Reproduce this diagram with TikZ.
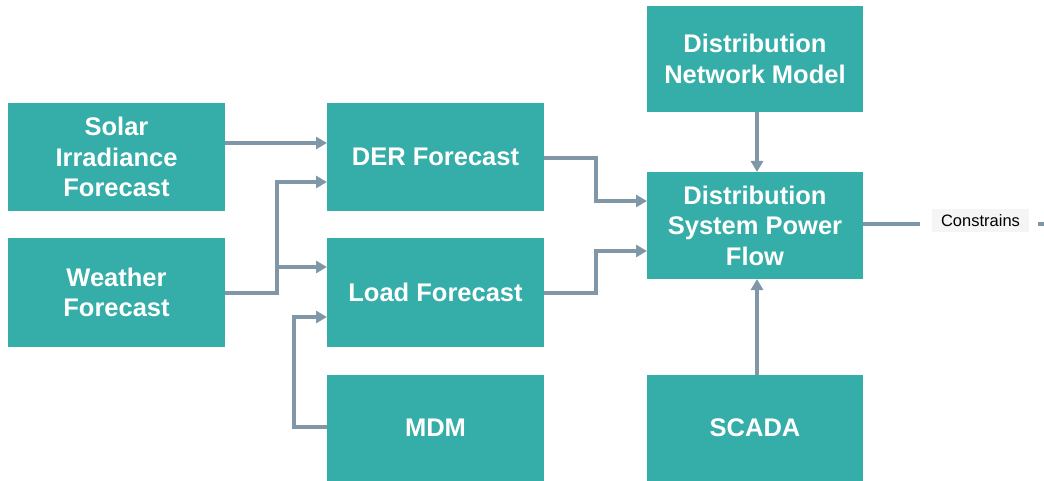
\documentclass[tikz,border=0pt]{standalone}
\usepackage{fontspec}
\setmainfont{Liberation Sans}
\usetikzlibrary{arrows.meta}
\definecolor{boxteal}{HTML}{35ADA8}
\definecolor{linkgray}{HTML}{7F97A6}
\definecolor{tagbg}{HTML}{F5F5F5}
\begin{document}
\begin{tikzpicture}[x=1pt,y=-1pt,
  block/.style={fill=boxteal,draw=none,text=white,font=\fontsize{25.5}{30.5}\selectfont\bfseries,
    align=center,inner sep=0pt},
  link/.style={draw=linkgray,line width=3.2pt,-{Triangle[length=11pt,width=12pt]}},
  plainlink/.style={draw=linkgray,line width=3.2pt}]
\useasboundingbox (0,0) rectangle (1044,481);
% block outlines from their corners
\newcommand{\blockat}[6]{%
  \path[fill=boxteal] (#1,#2) rectangle (#3,#4);
  \node[block] (#5) at ({(#1+#3)/2},{(#2+#4)/2}) {#6};}
\blockat{8}{103}{225}{211}{solar}{Solar\\Irradiance\\Forecast}
\blockat{8}{238}{225}{347}{weather}{Weather\\Forecast}
\blockat{327}{103}{544}{211}{der}{DER Forecast}
\blockat{327}{238}{544}{347}{load}{Load Forecast}
\blockat{327}{375}{544}{481}{mdm}{MDM}
\blockat{647}{6}{863}{112}{dnm}{Distribution\\Network Model}
\blockat{647}{172}{863}{279}{dspf}{Distribution\\System Power\\Flow}
\blockat{647}{375}{863}{481}{scada}{SCADA}
% anchor points on block edges
\coordinate (solarE) at (225,143);
\coordinate (derWa) at (327,143);
\coordinate (derWb) at (327,182);
\coordinate (weatherE) at (225,293);
\coordinate (loadWa) at (327,267);
\coordinate (loadWb) at (327,317);
\coordinate (mdmW) at (327,427);
\coordinate (derE) at (544,158);
\coordinate (loadE) at (544,293);
\coordinate (dspfWa) at (647,201);
\coordinate (dspfWb) at (647,251);
\coordinate (dnmS) at (757,112);
\coordinate (dspfN) at (757,172);
\coordinate (scadaN) at (757,375);
\coordinate (dspfS) at (757,279);
\coordinate (dspfE) at (863,224);
\coordinate (tagW) at (920,224);
\coordinate (tail) at (1038,224);
\coordinate (tailEnd) at (1044,224);
% connectors
\draw[link] (solarE) -- (derWa);
\draw[link] (weatherE) -- (277,293) -- (277,182) -- (derWb);
\draw[link] (277,267) -- (loadWa);
\draw[link] (mdmW) -- (294,427) -- (294,317) -- (loadWb);
\draw[link] (derE) -- (596,158) -- (596,201) -- (dspfWa);
\draw[link] (loadE) -- (596,293) -- (596,251) -- (dspfWb);
\draw[link] (dnmS) -- (dspfN);
\draw[link] (scadaN) -- (dspfS);
\draw[plainlink] (dspfE) -- (tagW);
\draw[plainlink] (tail) -- (tailEnd);
\node[fill=tagbg,font=\fontsize{16.5}{19}\selectfont,text=black,minimum width=97pt,minimum height=23pt,inner sep=0pt] (tag) at (980.5,221) {Constrains};
\end{tikzpicture}
\end{document}
